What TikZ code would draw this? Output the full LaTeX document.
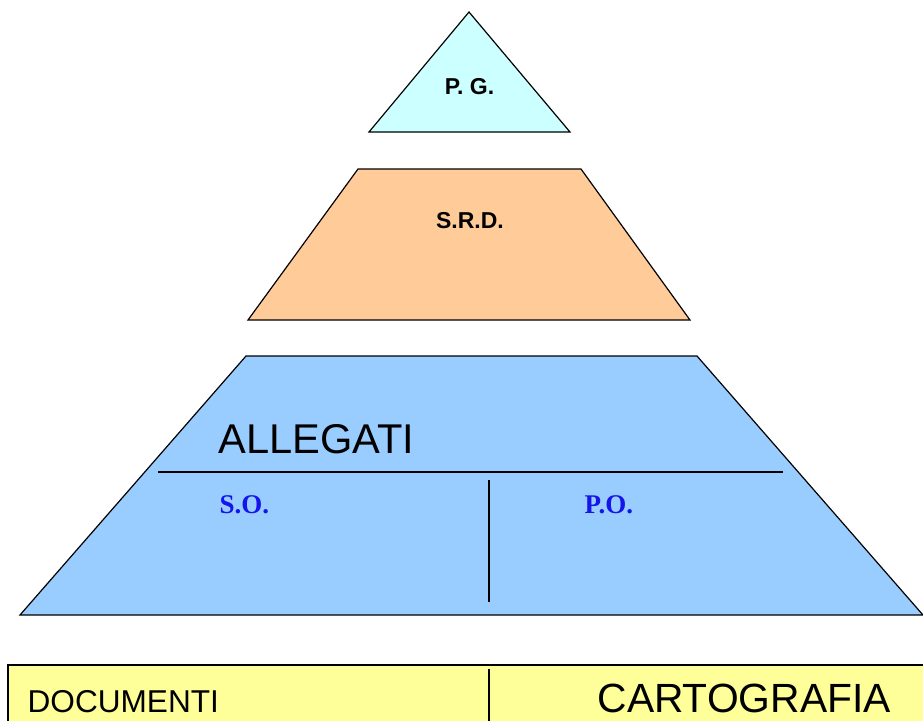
\documentclass[tikz,border=0pt]{standalone}
\usepackage{fontspec}
\setmainfont{Liberation Sans}
\newfontfamily\serifbf{Liberation Serif}
\definecolor{cpg}{RGB}{204,255,255}
\definecolor{csrd}{RGB}{255,204,153}
\definecolor{call}{RGB}{153,204,255}
\definecolor{cdoc}{RGB}{255,255,153}
\definecolor{cobl}{RGB}{20,20,235}

\begin{document}
\begin{tikzpicture}[x=0.5pt,y=-0.5pt,line width=0.6pt,
  lvl/.style={draw=black,line join=miter},
  lbl/.style={inner sep=0pt,anchor=base},
  sublbl/.style={lbl,anchor=base west,text=cobl,font=\serifbf\bfseries\fontsize{13.5}{16}\selectfont}]
\clip (0,0) rectangle (923,720);
% ===================== top: P.G. =====================
\filldraw[lvl,fill=cpg] (469,12) -- (570,132) -- (369,132) -- cycle;
\node[lbl,font=\bfseries\fontsize{11.5}{14}\selectfont] (pg) at (469.5,94) {P. G.};
% ===================== middle: S.R.D. =====================
\filldraw[lvl,fill=csrd] (358,169) -- (581,169) -- (690,320) -- (248,320) -- cycle;
\node[lbl,font=\bfseries\fontsize{11.5}{14}\selectfont] (srd) at (470,228) {S.R.D.};
% ===================== base: ALLEGATI =====================
\filldraw[lvl,fill=call] (246,356) -- (697,356) -- (923,615) -- (20,615) -- cycle;
\node[lbl,anchor=base west,font=\fontsize{20.8}{25}\selectfont] (all) at (218,453) {ALLEGATI};
\draw (158,472) -- (783,472);
\draw (489,480) -- (489,602);
\node[sublbl] (so) at (219,513) {S.O.};
\node[sublbl] (po) at (584,513) {P.O.};
% ===================== bottom box =====================
\filldraw[lvl,fill=cdoc] (8,665) rectangle (940,740);
\draw (489,669) -- (489,740);
\node[lbl,anchor=base west,font=\fontsize{15.8}{19}\selectfont] (doc) at (27,712) {DOCUMENTI};
\node[lbl,anchor=base west,font=\fontsize{20.4}{24}\selectfont] (carto) at (597,712) {CARTOGRAFIA};
\end{tikzpicture}
\end{document}
